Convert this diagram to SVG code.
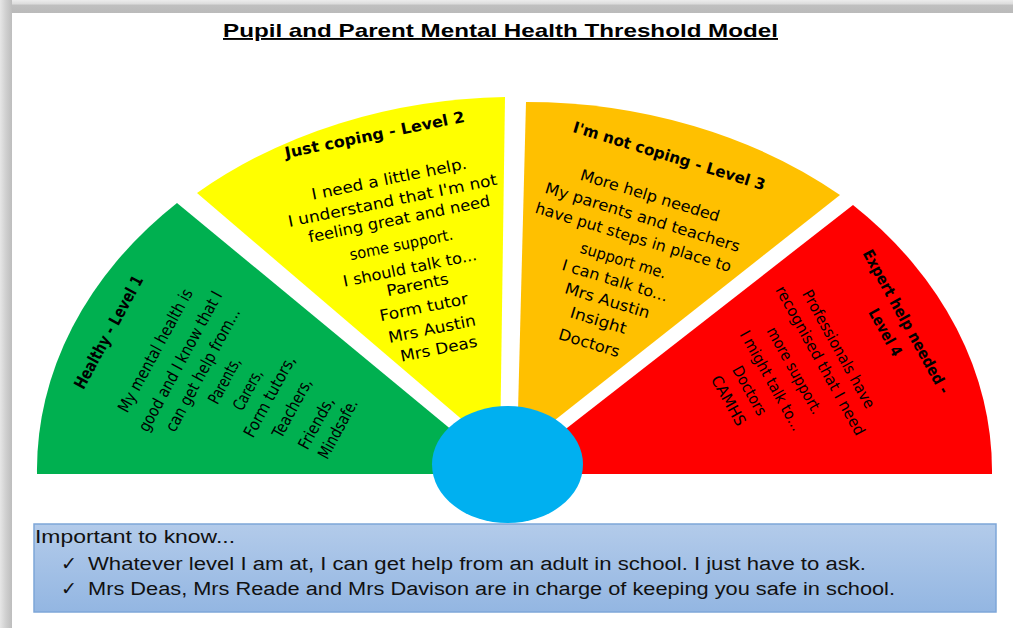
<svg xmlns="http://www.w3.org/2000/svg" width="1013" height="628" viewBox="0 0 1013 628">
<defs>
<linearGradient id="topShade" x1="0" y1="0" x2="0" y2="1">
<stop offset="0" stop-color="#ececec"/><stop offset="0.3" stop-color="#dcdcdc"/><stop offset="0.4" stop-color="#bfbfbf"/><stop offset="1" stop-color="#bababa"/>
</linearGradient>
<linearGradient id="leftShade" x1="0" y1="0" x2="1" y2="0">
<stop offset="0" stop-color="#e6e6e6"/><stop offset="0.5" stop-color="#cfcfcf"/><stop offset="1" stop-color="#bdbdbd"/>
</linearGradient>
<linearGradient id="boxFill" x1="0" y1="0" x2="0" y2="1">
<stop offset="0" stop-color="#B3CBEA"/><stop offset="1" stop-color="#93B6E2"/>
</linearGradient>
<style>
.w{font-family:"Comic Sans MS","DejaVu Sans",sans-serif;font-size:15.5px;fill:#000}
.g{font-size:16.5px}
.b{font-weight:bold}
.c{font-family:"Liberation Sans",Arial,sans-serif;font-size:18px;fill:#111}
.ck{font-family:"DejaVu Sans",sans-serif;font-size:19px;fill:#111}
.ttl{font-family:"Liberation Sans",Arial,sans-serif;font-size:19px;font-weight:bold;fill:#000}
</style>
</defs>
<rect x="0" y="0" width="1013" height="628" fill="#ffffff"/>
<rect x="0" y="0" width="1013" height="13" fill="url(#topShade)"/>
<rect x="0" y="0" width="12" height="628" fill="url(#leftShade)"/>

<g id="title">
<text class="ttl" x="223" y="37" textLength="555" lengthAdjust="spacingAndGlyphs" text-decoration="underline">Pupil and Parent Mental Health Threshold Model</text>
</g>

<g id="level1">
<path d="M505 474 L37 474 A477 377 0 0 1 177 203 Z" fill="#00B050"/>
<g class="w g">
<text class="b" transform="translate(109.2 332.5) rotate(-61.5)" x="-63" y="5" textLength="126" lengthAdjust="spacingAndGlyphs">Healthy - Level 1</text>
<text transform="translate(155.8 350.8) rotate(-61.5)" x="-69" y="5" textLength="138" lengthAdjust="spacingAndGlyphs">My mental health is</text>
<text transform="translate(180.8 361.7) rotate(-61.5)" x="-78.5" y="5" textLength="157" lengthAdjust="spacingAndGlyphs">good and I know that I</text>
<text transform="translate(203.3 370) rotate(-61.5)" x="-69" y="5" textLength="138" lengthAdjust="spacingAndGlyphs">can get help from...</text>
<text transform="translate(225 380.8) rotate(-61.5)" x="-25" y="5" textLength="50" lengthAdjust="spacingAndGlyphs">Parents,</text>
<text transform="translate(248.3 390) rotate(-61.5)" x="-22" y="5" textLength="44" lengthAdjust="spacingAndGlyphs">Carers,</text>
<text transform="translate(270 396.7) rotate(-61.5)" x="-45" y="5" textLength="90" lengthAdjust="spacingAndGlyphs">Form tutors,</text>
<text transform="translate(292.5 408.3) rotate(-61.5)" x="-32.5" y="5" textLength="65" lengthAdjust="spacingAndGlyphs">Teachers,</text>
<text transform="translate(316.7 423.3) rotate(-61.5)" x="-28.5" y="5" textLength="57" lengthAdjust="spacingAndGlyphs">Friends,</text>
<text transform="translate(338.3 429.2) rotate(-61.5)" x="-32.5" y="5" textLength="65" lengthAdjust="spacingAndGlyphs">Mindsafe.</text>
</g>
</g>

<g id="level2">
<path d="M500 452 L197 193 A477 377 0 0 1 505 97 Z" fill="#FFFF00"/>
<g class="w">
<text class="b" transform="translate(374.7 135) rotate(-11.5)" x="-91.5" y="5" textLength="183" lengthAdjust="spacingAndGlyphs">Just coping - Level 2</text>
<text transform="translate(389.2 179.2) rotate(-11.5)" x="-79" y="5" textLength="158" lengthAdjust="spacingAndGlyphs">I need a little help.</text>
<text transform="translate(392.5 200.8) rotate(-11.5)" x="-106.5" y="5" textLength="213" lengthAdjust="spacingAndGlyphs">I understand that I'm not</text>
<text transform="translate(399.2 219.2) rotate(-11.5)" x="-92.5" y="5" textLength="185" lengthAdjust="spacingAndGlyphs">feeling great and need</text>
<text transform="translate(401.3 245) rotate(-11.5)" x="-52.5" y="5" textLength="105" lengthAdjust="spacingAndGlyphs">some support.</text>
<text transform="translate(410 268.3) rotate(-11.5)" x="-68" y="5" textLength="136" lengthAdjust="spacingAndGlyphs">I should talk to...</text>
<text transform="translate(417.5 285) rotate(-11.5)" x="-31.5" y="5" textLength="63" lengthAdjust="spacingAndGlyphs">Parents</text>
<text transform="translate(423.8 307.5) rotate(-11.5)" x="-45" y="5" textLength="90" lengthAdjust="spacingAndGlyphs">Form tutor</text>
<text transform="translate(432 329.2) rotate(-11.5)" x="-44.5" y="5" textLength="89" lengthAdjust="spacingAndGlyphs">Mrs Austin</text>
<text transform="translate(438.8 349.2) rotate(-11.5)" x="-39" y="5" textLength="78" lengthAdjust="spacingAndGlyphs">Mrs Deas</text>
</g>
</g>

<g id="level3">
<path d="M517 450 L526 102 A477 377 0 0 1 840 195 Z" fill="#FFC000"/>
<g class="w">
<text class="b" transform="translate(669.2 156.3) rotate(17)" x="-100" y="5" textLength="200" lengthAdjust="spacingAndGlyphs">I'm not coping - Level 3</text>
<text transform="translate(650 195.8) rotate(17)" x="-72.5" y="5" textLength="145" lengthAdjust="spacingAndGlyphs">More help needed</text>
<text transform="translate(642.5 217.5) rotate(17)" x="-101.5" y="5" textLength="203" lengthAdjust="spacingAndGlyphs">My parents and teachers</text>
<text transform="translate(633.3 237.5) rotate(17)" x="-102" y="5" textLength="204" lengthAdjust="spacingAndGlyphs">have put steps in place to</text>
<text transform="translate(623.3 260.8) rotate(17)" x="-44.5" y="5" textLength="89" lengthAdjust="spacingAndGlyphs">support me.</text>
<text transform="translate(615 280.8) rotate(17)" x="-55" y="5" textLength="110" lengthAdjust="spacingAndGlyphs">I can talk to...</text>
<text transform="translate(607.2 300.8) rotate(17)" x="-44" y="5" textLength="88" lengthAdjust="spacingAndGlyphs">Mrs Austin</text>
<text transform="translate(598.3 320.8) rotate(17)" x="-29" y="5" textLength="58" lengthAdjust="spacingAndGlyphs">Insight</text>
<text transform="translate(589.2 343.3) rotate(17)" x="-31.5" y="5" textLength="63" lengthAdjust="spacingAndGlyphs">Doctors</text>
</g>
</g>

<g id="level4">
<path d="M508 474 L853 205 A477 377 0 0 1 992 474 Z" fill="#FF0000"/>
<g class="w">
<text class="b" transform="translate(905.8 321.7) rotate(61)" x="-81" y="5" textLength="162" lengthAdjust="spacingAndGlyphs">Expert help needed -</text>
<text class="b" transform="translate(885 332.5) rotate(61)" x="-26" y="5" textLength="52" lengthAdjust="spacingAndGlyphs">Level 4</text>
<text transform="translate(838.3 349.2) rotate(61)" x="-66.5" y="5" textLength="133" lengthAdjust="spacingAndGlyphs">Professionals have</text>
<text transform="translate(820 360.8) rotate(61)" x="-84" y="5" textLength="168" lengthAdjust="spacingAndGlyphs">recognised that I need</text>
<text transform="translate(794.2 370.8) rotate(61)" x="-48.5" y="5" textLength="97" lengthAdjust="spacingAndGlyphs">more support.</text>
<text transform="translate(770.8 380.8) rotate(61)" x="-56" y="5" textLength="112" lengthAdjust="spacingAndGlyphs">I might talk to...</text>
<text transform="translate(749.2 390.8) rotate(61)" x="-27" y="5" textLength="54" lengthAdjust="spacingAndGlyphs">Doctors</text>
<text transform="translate(728.3 400.8) rotate(61)" x="-27.5" y="5" textLength="55" lengthAdjust="spacingAndGlyphs">CAMHS</text>
</g>
</g>

<g id="hub">
<ellipse cx="507.5" cy="464.5" rx="75.5" ry="58.5" fill="#00B0F0"/>
</g>

<g id="info">
<rect x="34" y="524" width="962" height="88" fill="url(#boxFill)" stroke="#7EA6D8" stroke-width="1.5"/>
<text class="c" x="35" y="543" textLength="200" lengthAdjust="spacingAndGlyphs">Important to know...</text>
<text class="ck" x="61" y="570">✓</text>
<text class="c" x="88" y="570" textLength="778" lengthAdjust="spacingAndGlyphs">Whatever level I am at, I can get help from an adult in school. I just have to ask.</text>
<text class="ck" x="61" y="595">✓</text>
<text class="c" x="88" y="595" textLength="807" lengthAdjust="spacingAndGlyphs">Mrs Deas, Mrs Reade and Mrs Davison are in charge of keeping you safe in school.</text>
</g>
</svg>
